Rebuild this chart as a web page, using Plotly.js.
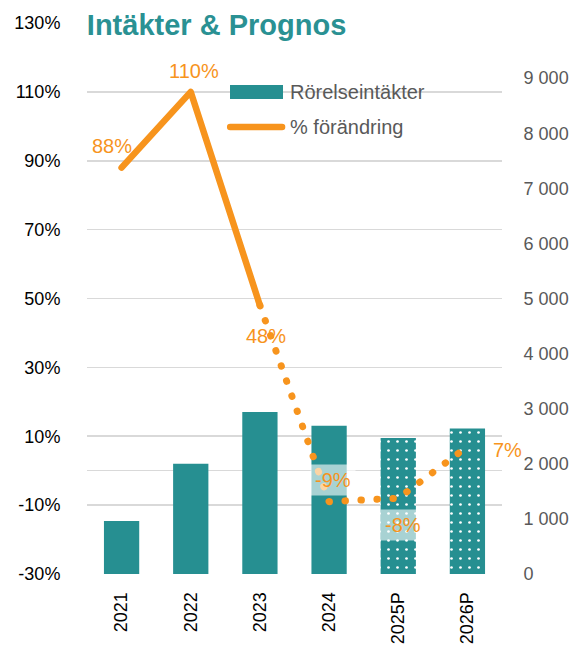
<!DOCTYPE html>
<html>
<head>
<meta charset="utf-8">
<script src="https://cdn.plot.ly/plotly-3.0.1.min.js"></script>
<style>
html,body{margin:0;padding:0;background:#fff;}
#chart{width:579px;height:648px;}
.js-line{stroke-linecap:round;stroke-linejoin:round;}
.shapelayer path{stroke-linecap:round;}
</style>
</head>
<body>
<div id="chart"></div>
<script>
// ---- data ----
const categories = ['2021', '2022', '2023', '2024', '2025P', '2026P'];
const revenue = [960, 2000, 2940, 2690, 2470, 2640];          // Rörelseintäkter (right axis)
const pctChange = [88, 110, 48, -9, -8, 7];                    // % förändring (left axis)
const pctLabels = ['88%', '110%', '48%', '-9%', '-8%', '7%'];
const actualCount = 4;            // years with reported figures (2021-2024)
const solidCount = 3;             // solid line through 2023, dotted afterwards
const leftTicks = [-30, -10, 10, 30, 50, 70, 90, 110, 130];
const leftTickText = ['-30%', '-10%', '10%', '30%', '50%', '70%', '90%', '110%', '130%'];
const rightTicks = [0, 1000, 2000, 3000, 4000, 5000, 6000, 7000, 8000, 9000];
const rightTickText = ['0', '1 000', '2 000', '3 000', '4 000', '5 000', '6 000', '7 000', '8 000', '9 000'];
const titleText = 'Intäkter & Prognos';
const seriesNames = ['Rörelseintäkter', '% förändring'];

// ---- styling ----
const TEAL = '#268F91';
const ORANGE = '#F7941D';
const FONT = 'Liberation Sans, Arial, sans-serif';

const barActual = {
  type: 'bar',
  name: seriesNames[0],
  x: categories.slice(0, actualCount),
  y: revenue.slice(0, actualCount),
  yaxis: 'y',
  width: 0.51,
  marker: {color: TEAL, line: {width: 0}},
  hoverinfo: 'skip'
};

const barForecast = {
  type: 'bar',
  name: seriesNames[0] + ' (prognos)',
  x: categories.slice(actualCount),
  y: revenue.slice(actualCount),
  yaxis: 'y',
  width: 0.51,
  marker: {
    color: TEAL,
    line: {width: 0},
    pattern: {shape: '.', fillmode: 'replace', bgcolor: TEAL, fgcolor: '#ffffff', size: 9, solidity: 0.07}
  },
  hoverinfo: 'skip'
};

const solidTrace = {
  type: 'scatter',
  mode: 'lines',
  name: seriesNames[1],
  x: categories.slice(0, solidCount),
  y: pctChange.slice(0, solidCount),
  xaxis: 'x',
  yaxis: 'y2',
  line: {color: ORANGE, width: 6.5},
  hoverinfo: 'skip'
};

const dottedTrace = {
  type: 'scatter',
  mode: 'lines',
  name: seriesNames[1] + ' (prognos)',
  x: categories.slice(solidCount - 1),
  y: pctChange.slice(solidCount - 1),
  xaxis: 'x',
  yaxis: 'y2',
  line: {color: ORANGE, width: 7, dash: '0.5px,15.5px'},
  hoverinfo: 'skip'
};

// label offsets relative to each point (pixels)
const labelOffsets = [
  {xs: -10, ys: 22, xa: 'center'},
  {xs: 3, ys: 21, xa: 'center'},
  {xs: 6, ys: -31, xa: 'center'},
  {xs: 4, ys: 22, xa: 'center'},
  {xs: 5, ys: -27, xa: 'center'},
  {xs: 21, ys: -3, xa: 'left'}
];

const annotations = pctChange.map((v, i) => ({
  x: i,
  y: v,
  xref: 'x',
  yref: 'y2',
  text: pctLabels[i],
  showarrow: false,
  xanchor: labelOffsets[i].xa,
  yanchor: 'middle',
  xshift: labelOffsets[i].xs,
  yshift: labelOffsets[i].ys,
  font: {family: FONT, size: 20, color: ORANGE},
  bgcolor: (i === 3 || i === 4) ? 'rgba(255,255,255,0.6)' : 'rgba(255,255,255,0)',
  borderpad: 4
}));

// manual legend
annotations.push({
  xref: 'paper', yref: 'paper', x: 0.484, y: 0.8748,
  text: seriesNames[0], showarrow: false, xanchor: 'left', yanchor: 'middle',
  font: {family: FONT, size: 20, color: '#595959'}
});
annotations.push({
  xref: 'paper', yref: 'paper', x: 0.484, y: 0.8113,
  text: seriesNames[1], showarrow: false, xanchor: 'left', yanchor: 'middle',
  font: {family: FONT, size: 20, color: '#595959'}
});

const shapes = [
  {type: 'rect', xref: 'paper', yref: 'paper', x0: 0.3446, x1: 0.4723, y0: 0.862, y1: 0.8875,
   fillcolor: TEAL, line: {width: 0}},
  {type: 'line', xref: 'paper', yref: 'paper', x0: 0.345, x1: 0.470, y0: 0.8113, y1: 0.8113,
   line: {color: ORANGE, width: 6.5}}
];

const layout = {
  width: 579,
  height: 648,
  margin: {l: 87, r: 77, t: 23, b: 74, pad: 0},
  paper_bgcolor: '#ffffff',
  plot_bgcolor: 'rgba(0,0,0,0)',
  showlegend: false,
  barmode: 'overlay',
  font: {family: FONT},
  title: {
    text: '<b>' + titleText + '</b>',
    font: {family: FONT, size: 29, color: '#2A9193'},
    x: 0.150, xanchor: 'left', xref: 'container',
    y: 0.9614, yanchor: 'middle', yref: 'container'
  },
  xaxis: {
    type: 'category',
    categoryorder: 'array',
    categoryarray: categories,
    range: [-0.5, categories.length - 0.5],
    tickangle: -90,
    tickfont: {family: FONT, size: 18, color: '#000000'},
    showgrid: false,
    zeroline: false,
    showline: false,
    ticks: 'outside',
    ticklen: 10,
    tickcolor: 'rgba(0,0,0,0)',
    fixedrange: true
  },
  yaxis: {
    side: 'right',
    range: [0, 10000],
    tickvals: rightTicks,
    ticktext: rightTickText,
    tickfont: {family: FONT, size: 18, color: '#595959'},
    showgrid: false,
    zeroline: false,
    showline: false,
    ticks: 'outside',
    ticklen: 17,
    tickcolor: 'rgba(0,0,0,0)',
    fixedrange: true
  },
  yaxis2: {
    overlaying: 'y',
    side: 'left',
    range: [-30, 130],
    tickvals: leftTicks,
    ticktext: leftTickText,
    tickfont: {family: FONT, size: 18, color: '#000000'},
    showgrid: true,
    gridcolor: '#D9D9D9',
    gridwidth: 1.6,
    zeroline: true,
    zerolinecolor: '#D9D9D9',
    zerolinewidth: 1.6,
    showline: false,
    ticks: 'outside',
    ticklen: 22,
    tickcolor: 'rgba(0,0,0,0)',
    fixedrange: true
  },
  annotations: annotations,
  shapes: shapes
};

Plotly.newPlot('chart', [barActual, barForecast, solidTrace, dottedTrace], layout, {displayModeBar: false, staticPlot: true});
</script>
</body>
</html>
